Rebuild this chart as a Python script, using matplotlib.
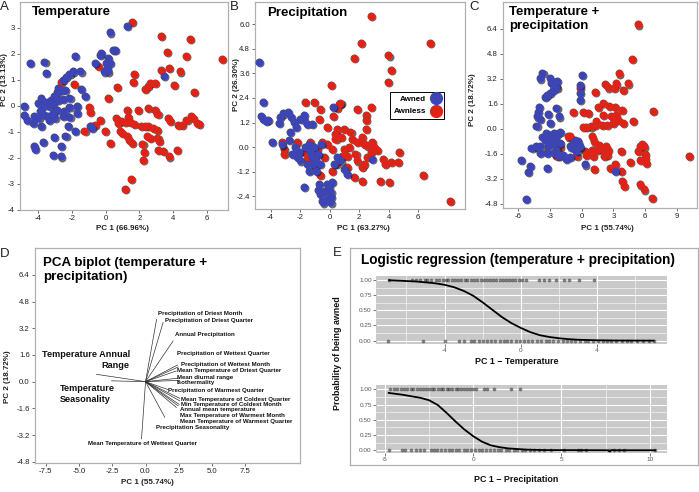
import matplotlib
matplotlib.use("Agg")
import matplotlib.pyplot as plt
from matplotlib.lines import Line2D
from matplotlib.ticker import FormatStrFormatter, MultipleLocator
from matplotlib.transforms import offset_copy

plt.rcParams['font.family'] = ['Liberation Sans', 'DejaVu Sans']
plt.rcParams['axes.unicode_minus'] = False

# ---------------- data ----------------
# A: temperature PCA
a_awned_x = [1.29, 0.24, -0.26, -0.36, 0.44, 0.57, 0.14, 0.0, 0.24, 0.06, -0.10, 0.14, -0.65,
             -4.46, -3.62, -3.52, -1.80, -1.94, -2.14, -2.34, -2.53, -1.49, -2.83, -2.87, -2.63,
             -2.40, -3.03, -3.23, -3.47, -3.72, -4.02, -3.82, -3.33, -3.13, -2.83, -2.53, -2.14,
             -1.45, -1.21, -1.68, -1.68, -2.14, -2.44, -2.53, -2.14, -2.87, -3.13, -3.39, -3.62,
             -3.86, -3.98, -4.26, -4.32, -4.65, -3.82, -3.33, -3.03, -4.81, -4.81, -0.95, -0.81,
             -3.72, -4.22, -4.18, -3.07, -2.38, -1.84, -2.67, -2.63, -3.13, -2.24, 3.47]
a_awned_y = [3.09, 2.83, 2.03, 1.97, 2.17, 2.14, 1.85, 1.65, 1.65, 1.46, 1.33, 1.33, 1.65,
             1.65, 1.68, 1.27, 1.91, 1.33, 1.24, 1.12, 1.01, 1.33, 0.69, 0.53, 0.60,
             0.63, 0.37, 0.24, 0.14, -0.01, 0.12, 0.29, -0.01, 0.09, 0.24, 0.27, 0.31,
             0.65, 0.37, 0.01, -0.27, -0.04, -0.21, -0.40, -0.42, -0.14, -0.27, -0.37, -0.33,
             -0.21, -0.46, -0.40, -0.65, -0.53, -0.78, -0.55, -0.46, 0.01, -0.33, -0.76, -0.83,
             -1.40, -1.55, -1.64, -1.19, -1.14, -0.97, -1.55, -1.94, -1.88, -0.78, 1.14]
a_awnless_x = [1.56, 3.27, 4.99, 3.64, 4.75, 6.87, -0.46, 3.74, -2.63, -1.88, 1.68, 3.27, 4.40,
               1.62, 2.61, 2.51, 2.32, 2.91, 4.06, 5.21, 0.69, 0.14, -0.99, -0.95, 1.29, 1.92,
               2.51, 2.91, 3.07, 3.70, 3.80, 4.30, 4.50, 4.79, 5.05, 5.19, 5.39, 5.54, -0.36,
               -1.25, -0.65, 0.63, 0.93, 1.17, 1.43, 1.33, 1.68, 0.83, 0.97, 1.29, 1.37, 1.56,
               2.08, 2.32, 2.51, 2.81, 3.05, 2.61, 3.07, 3.15, 2.44, 0.24, -0.06, 2.18, 2.28,
               3.11, 3.41, 3.76, 4.20, 2.22, 1.52, 1.17, 0.73, -0.89]
a_awnless_y = [3.24, 2.71, 2.58, 2.09, 1.94, 1.81, 1.55, 1.46, 0.91, 0.86, 1.24, 1.37, 1.33,
               0.91, 0.88, 0.76, 0.65, 0.88, 0.82, 0.55, 0.73, 0.32, -0.04, -0.24, -0.14, -0.14,
               -0.08, -0.14, -0.29, -0.46, -0.59, -0.72, -0.73, -0.53, -0.40, -0.46, -0.65, -0.68, -0.55,
               -0.95, -0.72, -0.46, -0.59, -0.63, -0.63, -0.42, -0.69, -0.95, -1.04, -1.14, -1.29, -1.42,
               -0.76, -0.76, -0.78, -0.85, -0.91, -1.23, -1.23, -1.36, -1.14, -1.42, -0.97, -1.46, -1.78,
               -1.68, -1.74, -1.94, -1.68, -2.09, -2.79, -3.18, -0.65, -0.78]

# B: precipitation PCA
b_awned_x = [-4.77, -4.50, -4.68, -4.50, -4.32, -4.16, -3.93, -3.25, -3.14, -3.36, -3.41, -2.80,
             -2.64, -2.45, -2.27, -2.00, -1.73, -1.55, -1.20, -1.77, -2.68, -2.73, -2.57, -2.23,
             -2.00, -2.11, -2.34, -1.66, -1.43, -1.32, -1.20, -1.14, -1.43, -0.98, -0.82, -0.59,
             -1.09, -1.77, -0.75, -0.82, -0.64, -0.52, -0.45, -0.18, -0.07, 0.05, 0.09, 0.05,
             -0.18, -0.30, 0.16, 0.23, 0.50, 0.73, 0.95, 1.18, 0.27, -0.91, 2.89, -0.68, -1.55]
b_awned_y = [4.14, 2.21, 1.51, 1.39, 1.28, 1.34, 0.25, 0.13, 1.64, 1.47, 1.18, 1.72,
             1.47, 1.23, 0.98, 1.39, 1.31, 1.11, 1.11, 1.55, 0.74, 0.33, -0.33, -0.49,
             -0.65, -0.25, 0.0, 0.0, 0.16, -0.25, -0.49, -0.82, -1.15, -0.57, -0.33, 0.16,
             0.0, -1.96, -1.80, -2.09, -2.29, -2.62, -2.70, -1.80, -1.96, -2.21, -2.45, -2.70,
             -2.54, -2.13, -1.72, 1.96, -0.49, -0.65, -1.06, -1.31, -0.82, -1.15, -0.57, -0.82, -0.82]
b_awnless_x = [2.77, 2.14, 1.64, 6.77, 3.98, 4.16, 3.95, 0.09, -1.05, -1.66, -0.64, 0.50, 0.73,
               0.66, 0.23, 1.86, 2.43, 2.43, 2.43, 2.77, -0.75, -0.18, 0.50, 0.39, 0.39, 0.95,
               0.77, 1.41, 1.52, 1.86, 2.20, 2.32, 2.55, 2.89, 3.00, 3.23, 2.77, 2.55, 2.32,
               1.86, 1.75, 1.30, 0.95, 0.84, 0.61, 0.16, -0.18, -0.52, -0.86, -1.32, -2.23,
               -3.09, -3.09, -3.25, -1.77, -1.55, -0.86, -0.68, 0.16, 0.45, 1.18, 1.18, 1.64,
               2.20, 2.20, 3.64, 3.73, 4.14, 4.70, 4.64, 3.39, 4.02, 6.30, 8.18, -0.98, -1.09, -0.41]
b_awnless_y = [6.42, 5.07, 4.37, 5.07, 4.47, 3.76, 3.19, 3.03, 2.21, 2.21, 1.88, 1.93, 2.16,
               2.09, 1.51, 1.88, 1.55, 1.31, 0.90, 1.96, 1.39, 0.98, 0.90, 0.65, 0.41, 0.90,
               0.49, 0.74, 0.41, 0.25, 0.49, 0.16, 0.08, 0.25, 0.0, -0.16, -0.25, -0.49, -0.82,
               -0.65, -0.33, 0.0, -0.08, -0.41, -0.57, -0.08, 0.16, 0.25, -0.08, 0.25, 0.25,
               -0.08, -0.33, 0.25, -0.25, -0.57, -0.82, -1.34, -1.15, -0.82, -0.41, -0.95, -1.47,
               -0.98, -1.64, -0.57, -0.82, -0.74, -0.25, -0.74, -1.64, -1.72, -1.37, -2.62, -0.98, -0.49, -0.49]

# C: temperature + precipitation PCA
c_awned_x = [-3.71, -3.96, -3.02, -2.33, -2.86, -2.48, -2.39, -2.70, -2.96, -3.27, -3.49, -4.06,
             -4.12, -4.21, -3.96, -4.28, -3.21, -2.39, -2.14, -2.96, -3.33, -3.02, -2.64, -2.33,
             -2.08, -2.55, -3.02, -3.49, -3.90, -4.34, -3.96, -4.75, -3.18, -2.70, -2.08, -2.39,
             -2.64, -3.27, -2.14, -1.76, -1.45, -1.13, -1.13, -0.82, -0.35, -0.66, -0.82, -0.50,
             -0.13, 0.06, -0.19, -0.13, -0.19, 0.28, 3.11, -5.75, -4.91, -5.06, -3.27, -5.28, -3.71]
c_awned_y = [3.59, 3.23, 3.23, 3.08, 2.91, 2.74, 2.59, 2.48, 2.31, 2.17, 2.06, 1.38,
             1.10, 0.79, 0.62, 0.19, 0.96, 1.32, 0.79, 0.36, -0.28, -0.38, -0.28, -0.32,
             -0.23, -0.59, -0.70, -0.70, -1.13, -1.13, -1.55, -1.23, -1.13, -0.91, -0.91, -1.34,
             -1.55, -1.55, -1.76, -1.66, -1.93, -1.80, -1.13, -0.91, -0.81, -0.70, -1.23, -1.44,
             -1.13, 3.44, 2.80, 2.27, 1.85, -2.29, -2.72, -2.02, -2.40, -2.78, -2.51, -4.52, -0.53]
c_awnless_x = [5.31, 4.78, 3.52, 4.37, 3.21, 3.02, 3.90, 2.48, 2.17, 1.23, -0.19, -0.82, 0.13,
               0.60, 1.54, 2.01, 2.58, 3.11, 2.01, 3.27, 3.84, 3.43, 3.90, 4.84, 2.80, 2.96,
               2.39, 1.95, 0.91, 0.44, 1.23, 1.38, -1.13, -1.29, 0.13, 1.01, 1.13, 1.64, 2.33,
               2.48, 1.86, 1.45, 1.01, 0.28, 0.38, 2.08, 2.39, 3.74, 4.59, 3.11, 5.72, 5.47,
               5.85, 5.31, 5.94, 5.94, 6.10, 5.47, 3.74, 2.64, 1.16, 3.84, 3.96, 5.47, 5.88,
               6.64, 6.73, 10.13, -2.08, -2.39, -0.50, 1.07]
c_awnless_y = [6.69, 4.50, 3.55, 2.91, 2.91, 2.59, 2.48, 2.65, 2.87, 2.34, 2.59, 1.10, 1.10,
               1.00, 1.38, 1.63, 1.46, 1.38, 0.89, 0.89, 1.21, 0.57, 0.36, 0.53, 0.83, 0.36,
               0.25, 0.25, 0.15, 0.11, 0.25, 0.47, -0.49, -0.49, 0.11, -0.49, -0.81, -1.02, -1.13,
               -1.34, -1.30, -1.34, -1.34, -1.44, -1.66, -1.76, -1.66, -1.44, -2.14, -2.23, -0.96, -1.13,
               -1.13, -1.44, -1.59, -1.87, -2.19, -1.97, -2.72, -2.51, -2.55, -3.35, -3.67, -3.57, -3.89,
               -4.46, 1.17, -1.76, -1.13, -1.76, -1.76, -1.76]

# D: biplot loadings (arrow tips) and variable names
d_vars = ["Precipitation of Driest Month", "Precipitation of Driest Quarter",
          "Annual Precipitation", "Precipitation of Wettest Quarter",
          "Precipitation of Wettest Month", "Mean Temperature of Driest Quarter",
          "Mean diurnal range", "Isothermality", "Precipitation of Warmest Quarter",
          "Mean Temperature of Coldest Quarter", "Min Temperature of Coldest Month",
          "Annual mean temperature", "Max Temperature of Warmest Month",
          "Mean Temperature of Warmest Quarter", "Precipitation Seasonality",
          "Mean Temperature of Wettest Quarter", "Temperature Annual\nRange",
          "Temperature\nSeasonality"]
d_pc1 = [0.83, 1.32, 2.07, 2.40, 2.45, 2.30, 2.57, 2.57, 1.70, 2.57, 2.57, 2.52, 2.45, 2.32,
         1.45, -0.30, -3.68, -2.55]
d_pc2 = [3.74, 3.55, 2.44, 1.00, 0.88, 0.64, 0.22, 0.08, -0.48, -1.00, -1.15, -1.36, -1.45,
         -1.55, -2.14, -3.43, 0.44, 0.05]

# E: logistic regression, observed points and fitted curves
e1_awned = [-6.91, -5.69, -5.5, -5.3, -5.05, -4.9, -4.7, -4.45, -4.3, -4.1, -3.95, -3.8, -3.6,
            -3.45, -3.3, -3.15, -2.95, -2.8, -2.6, -2.45, -2.3, -2.1, -1.95, -1.8, -1.6, -1.45,
            -1.3, -1.1, -0.95, -0.8, -0.6, -0.45, -0.3, -0.1, 0.05, 0.26, 0.96, 1.22, 1.49,
            1.84, 2.27, 2.54, 3.06, 3.85]
e1_awnless = [-6.99, -5.13, -4.0, -3.24, -2.98, -2.63, -2.45, -2.2, -2.0, -1.8, -1.55, -1.35,
              -1.1, -0.9, -0.7, -0.5, -0.25, -0.05, 0.15, 0.4, 0.6, 0.85, 1.05, 1.3, 1.5, 1.7,
              1.95, 2.2, 2.4, 2.65, 2.85, 3.1, 3.35, 3.55, 3.8, 4.05, 4.3, 4.5, 4.75, 5.0, 5.3,
              5.55, 5.8, 6.1, 6.4, 6.7, 6.97]
e1_curve_x = [-6.91, -5.5, -4.5, -4.0, -3.5, -3.0, -2.5, -2.0, -1.5, -1.0, -0.5, 0.0, 0.5, 1.0,
              1.5, 2.0, 2.5, 3.0, 4.0, 5.0, 6.97]
e1_curve_y = [0.995, 0.975, 0.945, 0.92, 0.88, 0.82, 0.74, 0.63, 0.51, 0.39, 0.29, 0.21, 0.14,
              0.09, 0.06, 0.04, 0.025, 0.015, 0.006, 0.002, 0.0]
e2_awned = [-4.7, -4.5, -4.3, -4.1, -3.9, -3.75, -3.55, -3.4, -3.2, -3.0, -2.85, -2.7, -2.5,
            -2.35, -2.2, -2.0, -1.85, -1.7, -1.5, -1.35, -1.2, -1.0, -0.85, -0.7, -0.5, -0.35,
            -0.2, 0.0, 0.13, 0.6, 0.8, 1.17, 2.12, 2.65]
e2_awnless = [-4.79, -4.03, -3.84, -3.52, -3.27, -3.02, -2.8, -2.42, -2.25, -2.05, -1.85, -1.6,
              -1.4, -1.2, -1.0, -0.8, -0.55, -0.35, -0.15, 0.1, 0.3, 0.5, 0.75, 0.95, 1.15,
              1.4, 1.6, 1.85, 2.05, 2.3, 2.5, 2.75, 2.95, 3.2, 3.45, 3.7, 4.02, 4.39, 5.15,
              5.91, 6.1, 6.38, 7.7, 7.99, 8.27, 8.56, 10.3]
e2_curve_x = [-4.79, -4.0, -3.0, -2.5, -2.0, -1.5, -1.0, -0.5, 0.0, 0.5, 1.0, 1.5, 2.0, 3.0,
              4.0, 7.6, 7.75, 7.85, 8.0, 10.3]
e2_curve_y = [0.94, 0.91, 0.86, 0.82, 0.74, 0.61, 0.47, 0.34, 0.23, 0.14, 0.08, 0.05, 0.03,
              0.01, 0.003, 0.0, -0.02, 0.005, 0.0, 0.0]

# ---------------- layout helpers ----------------
W, H = 699, 492
fig = plt.figure(figsize=(W / 100, H / 100), dpi=100)
BLUE = '#3d45b5'
RED = '#dd2418'
FRAME = '#b0b0b0'


def rect(l, t, r, b):
    return [l / W, 1 - b / H, (r - l) / W, (b - t) / H]


def ftext(x, y, s, **kw):
    fig.text(x / W, 1 - y / H, s, **kw)


def frame_style(ax):
    for sp in ax.spines.values():
        sp.set_color(FRAME)
        sp.set_linewidth(0.9)
    ax.tick_params(labelsize=5.6, length=2.2, width=0.6, color='#555555',
                   labelcolor='#222222', pad=1.5)


def scatter_panel(ax, ax_x, ax_y, al_x, al_y):
    sh = offset_copy(ax.transData, fig=fig, x=1.1, y=-1.1, units='dots')
    ax.scatter(al_x, al_y, s=33, color='#1a1a1a', alpha=0.65, lw=0, transform=sh, zorder=2)
    ax.scatter(al_x, al_y, s=33, color=RED, lw=0, zorder=3)
    ax.scatter(ax_x, ax_y, s=33, color='#1a1a1a', alpha=0.65, lw=0, transform=sh, zorder=4)
    ax.scatter(ax_x, ax_y, s=33, color=BLUE, lw=0, zorder=5)
    frame_style(ax)


# ---------------- A ----------------
axA = fig.add_axes(rect(20, 2, 228, 210))
scatter_panel(axA, a_awned_x, a_awned_y, a_awnless_x, a_awnless_y)
axA.set_xlim(-5.07, 7.25)
axA.set_ylim(-4, 4.0)
axA.set_xticks([-4, -2, 0, 2, 4, 6])
axA.set_yticks([-4, -3, -2, -1, 0, 1, 2, 3])

# ---------------- B ----------------
axB = fig.add_axes(rect(255, 2, 465, 209))
scatter_panel(axB, b_awned_x, b_awned_y, b_awnless_x, b_awnless_y)
axB.set_xlim(-5.06, 9.17)
axB.set_ylim(-3.02, 7.08)
axB.set_xticks([-4, -2, 0, 2, 4, 6])
axB.set_yticks([-2.4, -1.2, 0, 1.2, 2.4, 3.6, 4.8, 6.0])
axB.yaxis.set_major_formatter(FormatStrFormatter('%.1f'))
handles = [Line2D([], [], marker='o', ls='', color=BLUE, ms=8.5, label='Awned'),
           Line2D([], [], marker='o', ls='', color=RED, ms=8.5, label='Awnless')]
leg = axB.legend(handles=handles, loc='upper left', bbox_to_anchor=(0.643, 0.565),
                 markerfirst=False, fancybox=False, framealpha=1, edgecolor='black',
                 prop={'weight': 'bold', 'size': 5.8}, handletextpad=0.6,
                 borderpad=0.45, labelspacing=0.55, handlelength=1.2, borderaxespad=0)
leg.get_frame().set_linewidth(0.7)

# ---------------- C ----------------
axC = fig.add_axes(rect(503, 2, 697, 208))
scatter_panel(axC, c_awned_x, c_awned_y, c_awnless_x, c_awnless_y)
axC.set_xlim(-7.44, 10.9)
axC.set_ylim(-5.08, 8.13)
axC.set_xticks([-6, -3, 0, 3, 6, 9])
axC.set_yticks([-4.8, -3.2, -1.6, 0, 1.6, 3.2, 4.8, 6.4])
axC.yaxis.set_major_formatter(FormatStrFormatter('%.1f'))

# ---------------- D ----------------
axD = fig.add_axes(rect(35, 248, 300, 463))
frame_style(axD)
for px, py in zip(d_pc1, d_pc2):
    axD.plot([0, px], [0, py], color='#333333', lw=0.5)
label_pos = [(0.90, 4.11), (1.45, 3.65), (2.20, 2.80), (2.40, 1.69), (2.65, 1.04),
             (2.33, 0.66), (2.33, 0.26), (2.33, -0.06), (1.70, -0.54), (2.70, -1.04),
             (2.70, -1.38), (2.57, -1.69), (2.57, -2.02), (2.57, -2.38), (0.77, -2.75),
             (-4.31, -3.69)]
for name, (lx, ly) in zip(d_vars[:16], label_pos):
    axD.text(lx, ly, name, fontsize=4.4, fontweight='bold', ha='left', va='center',
             color='#111111')
axD.text(-1.18, 1.28, d_vars[16], fontsize=6.6, fontweight='bold', ha='right',
         va='center', multialignment='right', linespacing=1.25, color='#111111')
axD.text(-6.43, -0.72, d_vars[17], fontsize=6.6, fontweight='bold', ha='left',
         va='center', linespacing=1.25, color='#111111')
axD.set_xlim(-8.3, 11.6)
axD.set_ylim(-4.88, 8.02)
axD.set_xticks([-7.5, -5.0, -2.5, 0.0, 2.5, 5.0, 7.5])
axD.set_yticks([-4.8, -3.2, -1.6, 0, 1.6, 3.2, 4.8, 6.4])
axD.xaxis.set_major_formatter(FormatStrFormatter('%.1f'))
axD.yaxis.set_major_formatter(FormatStrFormatter('%.1f'))

# ---------------- E ----------------
axEf = fig.add_axes(rect(350, 248, 698, 465))
axEf.set_xticks([])
axEf.set_yticks([])
axEf.patch.set_alpha(0)
for sp in axEf.spines.values():
    sp.set_color(FRAME)
    sp.set_linewidth(0.9)


def logit_panel(ax, awned, awnless, cx, cy, major, minor):
    ax.set_facecolor('#c9c9c9')
    for sp in ax.spines.values():
        sp.set_visible(False)
    ax.xaxis.set_major_locator(MultipleLocator(major))
    ax.xaxis.set_minor_locator(MultipleLocator(minor))
    ax.set_yticks([0, 0.25, 0.5, 0.75, 1.0])
    ax.set_yticks([0.125, 0.375, 0.625, 0.875], minor=True)
    ax.yaxis.set_major_formatter(FormatStrFormatter('%.2f'))
    ax.grid(True, which='major', color='white', lw=0.8)
    ax.grid(True, which='minor', color='white', lw=0.4)
    ax.set_axisbelow(True)
    ax.tick_params(which='major', labelsize=4.6, length=2, width=0.5, color='#444444',
                   labelcolor='#555555', pad=1)
    ax.tick_params(which='minor', length=0)
    ax.scatter(awned, [1] * len(awned), s=7, color='#222222', alpha=0.55, lw=0, zorder=3)
    ax.scatter(awnless, [0] * len(awnless), s=7, color='#222222', alpha=0.55, lw=0, zorder=3)
    ax.plot(cx, cy, color='black', lw=1.3, zorder=4)


axE1 = fig.add_axes(rect(376, 276, 667, 344))
logit_panel(axE1, e1_awned, e1_awnless, e1_curve_x, e1_curve_y, 4, 2)
axE1.set_xlim(-7.6, 7.67)
axE1.set_ylim(-0.055, 1.065)

axE2 = fig.add_axes(rect(376, 385, 667, 453.3))
logit_panel(axE2, e2_awned, e2_awnless, e2_curve_x, e2_curve_y, 5, 2.5)
axE2.set_xlim(-5.51, 10.98)
axE2.set_ylim(-0.05, 1.07)

# ---------------- texts ----------------
tkw = dict(fontsize=9.5, fontweight='bold', color='black')
ftext(32, 12, 'Temperature', ha='left', va='center', **tkw)
ftext(267, 13, 'Precipitation', ha='left', va='center', **tkw)
ftext(509, 19, 'Temperature +\nprecipitation', ha='left', va='center', linespacing=1.15, **tkw)
ftext(43, 270, 'PCA biplot (temperature +\nprecipitation)', ha='left', va='center',
      linespacing=1.15, fontsize=9.6, fontweight='bold')
ftext(518, 260, 'Logistic regression (temperature + precipitation)', ha='center',
      va='center', fontsize=9.8, fontweight='bold')

for letter, x, y in [('A', 4, 7), ('B', 234, 7), ('C', 474, 7), ('D', 5, 254), ('E', 337, 253)]:
    ftext(x, y, letter, ha='center', va='center', fontsize=9.5, color='#222222')

lkw = dict(fontsize=5.8, fontweight='bold', ha='center', va='center', color='#222222')
ftext(122, 229, 'PC 1 (66.96%)', **lkw)
ftext(363, 229, 'PC 1 (63.27%)', **lkw)
ftext(607, 228, 'PC 1 (55.74%)', **lkw)
ftext(147, 483, 'PC 1 (55.74%)', **lkw)
ftext(5, 80, 'PC 2 (13.13%)', rotation=90, **lkw)
ftext(236, 85, 'PC 2 (26.30%)', rotation=90, **lkw)
ftext(473, 100, 'PC 2 (18.72%)', rotation=90, **lkw)
ftext(8, 377, 'PC 2 (18.72%)', rotation=90, **lkw)
ekw = dict(fontsize=6.4, fontweight='bold', ha='center', va='center', color='#111111')
ftext(337, 353, 'Probability of being awned', rotation=90, **ekw)
ftext(517, 361, 'PC 1 \u2212 Temperature', **ekw)
ftext(516, 480, 'PC 1 \u2212 Precipitation', **ekw)

fig.savefig('out.png', dpi=100)
